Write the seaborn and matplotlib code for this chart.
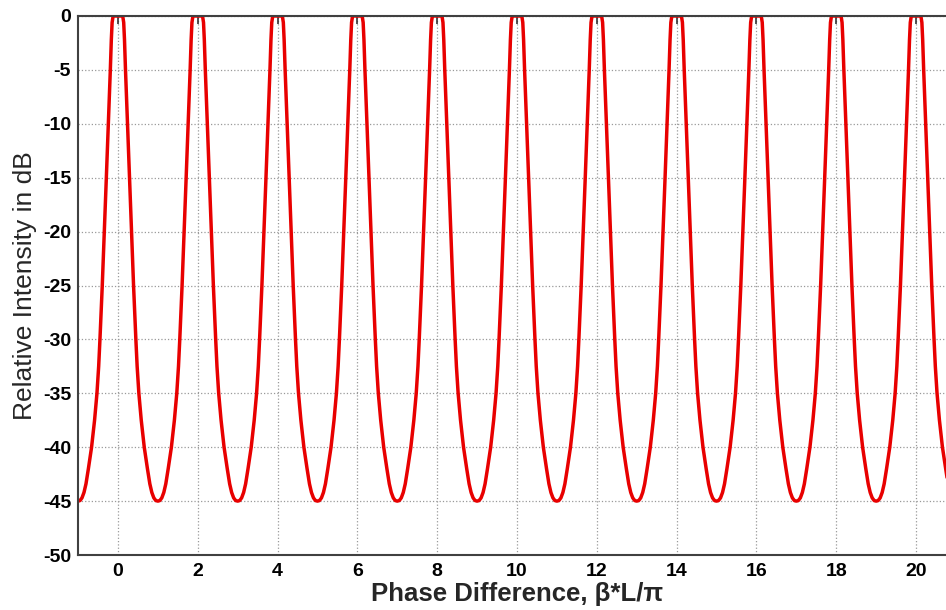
import numpy as np
import pandas as pd
import matplotlib
matplotlib.use("Agg")
import matplotlib.pyplot as plt
import seaborn as sns

# picos de intensidad (beta*L/pi) y forma de medio periodo
peaks = [0, 2, 4, 6, 8, 10, 12, 14, 16, 18, 20]
half_offset = [0.0, 0.12, 0.145, 0.165, 0.19, 0.24, 0.29, 0.34, 0.392, 0.45, 0.482,
               0.525, 0.585, 0.66, 0.74, 0.80, 0.85, 0.90, 0.95, 1.0]
half_db = [0.0, 0.0, -0.6, -2.2, -5.0, -10.0, -15.0, -20.0, -25.0, -30.0, -32.5,
           -35.0, -37.5, -40.0, -42.0, -43.4, -44.2, -44.7, -44.95, -45.0]

x_ticks = [0, 2, 4, 6, 8, 10, 12, 14, 16, 18, 20]
y_ticks = [0, -5, -10, -15, -20, -25, -30, -35, -40, -45, -50]

# armar la curva completa: cada pico con su lado izquierdo y derecho
xs, ys = [], []
for p in peaks:
    left_x = [p - d for d in reversed(half_offset)]
    left_y = list(reversed(half_db))
    right_x = [p + d for d in half_offset[1:]]
    right_y = half_db[1:]
    xs += left_x + right_x
    ys += left_y + right_y
df = pd.DataFrame({"fase": xs, "db": ys})

sns.set_style("white")
plt.rcParams["font.family"] = ["Liberation Sans", "DejaVu Sans"]

fig = plt.figure(figsize=(9.46, 6.10), dpi=100)
ax = fig.add_axes([78 / 946, 55 / 610, 878 / 946, 539 / 610])

sns.lineplot(data=df, x="fase", y="db", sort=False, estimator=None,
             color="#e80000", linewidth=2.5, ax=ax)

ax.set_xlim(-1, 21)
ax.set_ylim(-50, 0)
ax.set_xticks(x_ticks)
ax.set_yticks(y_ticks)
ax.set_xticklabels([str(t) for t in x_ticks], fontsize=14, fontweight="bold")
ax.set_yticklabels([str(t) for t in y_ticks], fontsize=14, fontweight="bold")
ax.tick_params(direction="in", length=6, width=1.2, top=True, right=True,
               colors="#333333", labelcolor="black")
ax.tick_params(axis="x", pad=6)
ax.tick_params(axis="y", pad=5)

ax.grid(True, linestyle=":", color="#999999", linewidth=0.9)
for s in ax.spines.values():
    s.set_color("#404040")
    s.set_linewidth(1.5)

ax.set_xlabel("Phase Difference, β*L/π", fontsize=18.5, fontweight="bold", labelpad=1)
ax.set_ylabel("Relative Intensity in dB", fontsize=19, labelpad=4)

fig.savefig("out.png", dpi=100)
